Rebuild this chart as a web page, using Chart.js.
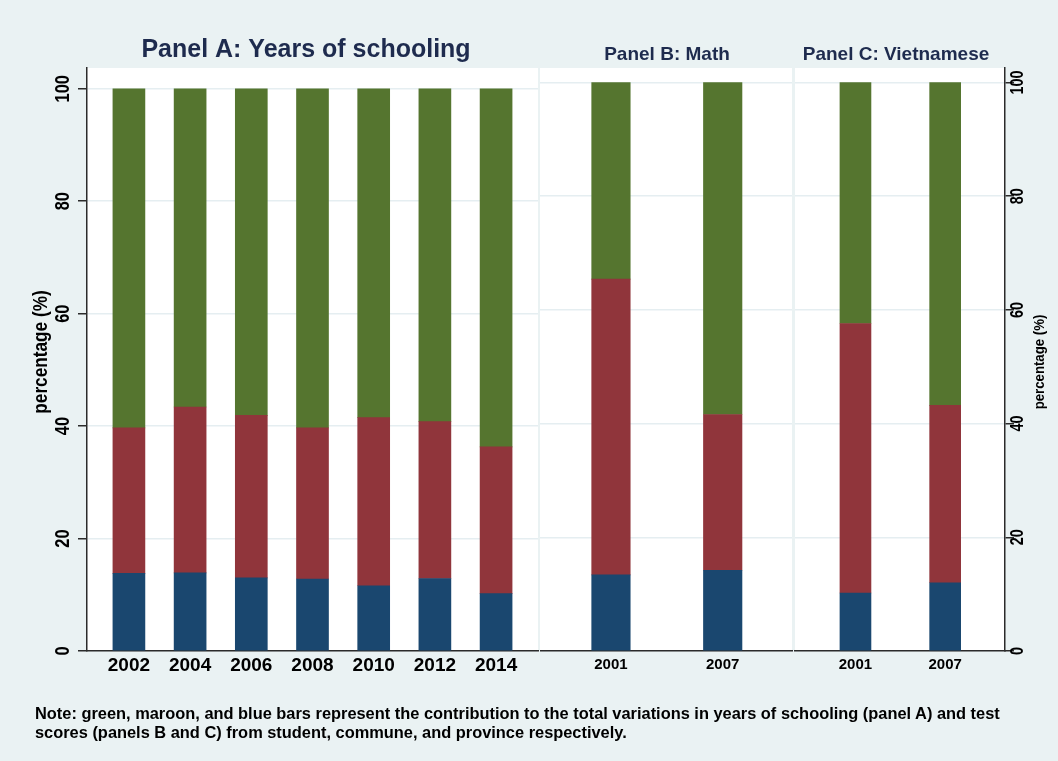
<!DOCTYPE html>
<html>
<head>
<meta charset="utf-8">
<script src="https://cdn.jsdelivr.net/npm/chart.js@4.4.1/dist/chart.umd.min.js"></script>
<style>
  html, body { margin: 0; padding: 0; }
  body {
    width: 1058px; height: 761px; overflow: hidden; position: relative;
    background: #EAF2F3;
    font-family: 'Liberation Sans', Arial, sans-serif;
  }
  canvas { position: absolute; top: 0; }
  #note {
    position: absolute; left: 35px; top: 704px;
    font-size: 16.4px; font-weight: bold; line-height: 19px; color: #000; white-space: nowrap;
  }
</style>
</head>
<body>
<canvas id="panelA" width="540" height="761" style="left:0px"></canvas>
<canvas id="panelB" width="253" height="761" style="left:540px"></canvas>
<canvas id="panelC" width="264" height="761" style="left:794px"></canvas>
<div id="note">Note: green, maroon, and blue bars represent the contribution to the total variations in years of schooling (panel A) and test<br>scores (panels B and C) from student, commune, and province respectively.</div>
<script>
// Panel A: years of schooling, share of variation by level (%)
const yearsA = ['2002', '2004', '2006', '2008', '2010', '2012', '2014'];
const provinceA = [13.8, 13.9, 13.0, 12.8, 11.6, 12.9, 10.2];
const communeA = [25.9, 29.5, 28.9, 26.9, 29.9, 27.9, 26.1];
const studentA = [60.3, 56.6, 58.1, 60.3, 58.5, 59.2, 63.7];

// Panel B: math test scores
const yearsB = ['2001', '2007'];
const provinceB = [13.4, 14.2];
const communeB = [52.0, 27.4];
const studentB = [34.6, 58.4];

// Panel C: Vietnamese test scores
const yearsC = ['2001', '2007'];
const provinceC = [10.2, 12.0];
const communeC = [47.4, 31.2];
const studentC = [42.4, 56.8];

const yTicks = [0, 20, 40, 60, 80, 100];

const NAVY = '#1A476F';
const MAROON = '#90353B';
const GREEN = '#55752F';
const AXIS = '#2B2B2B';
const GRID = '#E5EEF1';
const TITLE = '#1E2B4E';
const FONT = "'Liberation Sans', Arial, sans-serif";

Chart.defaults.font.family = FONT;

// white plot region, panel heading and rotated y labels
const panelDecor = {
  id: 'panelDecor',
  beforeDraw(chart) {
    const { ctx, chartArea: a } = chart;
    ctx.save();
    ctx.fillStyle = '#FFFFFF';
    ctx.fillRect(a.left, a.top, a.right - a.left, a.bottom - a.top);
    ctx.restore();
  },
  afterDraw(chart, args, o) {
    const { ctx } = chart;
    const y = chart.scales.y;
    ctx.save();
    ctx.fillStyle = TITLE;
    ctx.font = o.titleFont;
    ctx.textAlign = 'center';
    ctx.textBaseline = 'alphabetic';
    ctx.fillText(o.title, o.titleX, o.titleY);

    if (o.axisLabels) {
      ctx.fillStyle = '#000';
      ctx.textBaseline = 'middle';
      ctx.font = o.tickFont;
      yTicks.forEach((v) => {
        const py = y.getPixelForValue(v);
        ctx.save();
        ctx.translate(o.tickX, py);
        ctx.rotate(-Math.PI / 2);
        ctx.scale(o.tickSquash, 1);
        ctx.fillText(String(v), 0, 0);
        ctx.restore();
      });
      ctx.font = o.axisTitleFont;
      ctx.translate(o.axisTitleX, o.axisTitleY);
      ctx.rotate(-Math.PI / 2);
      ctx.scale(o.axisTitleSquash, 1);
      ctx.fillText('percentage (%)', 0, 0);
    }
    ctx.restore();
  },
};

function stackedData(values) {
  return values.map((v, i) => ({ x: i, y: v }));
}

function makePanel(id, p) {
  const datasets = [
    { label: 'province', data: stackedData(p.province), backgroundColor: NAVY },
    { label: 'commune', data: stackedData(p.commune), backgroundColor: MAROON },
    { label: 'student', data: stackedData(p.student), backgroundColor: GREEN },
  ].map((d) => ({ ...d, barThickness: p.barWidth, borderWidth: 0 }));

  return new Chart(document.getElementById(id), {
    type: 'bar',
    data: { datasets },
    plugins: [panelDecor],
    options: {
      responsive: false,
      devicePixelRatio: 1,
      animation: false,
      events: [],
      layout: { padding: p.padding },
      plugins: {
        legend: { display: false },
        tooltip: { enabled: false },
        panelDecor: p.decor,
      },
      scales: {
        x: {
          type: 'linear',
          offset: false,
          min: p.xMin,
          max: p.xMax,
          stacked: true,
          grid: { display: false, drawTicks: false },
          border: { display: true, color: AXIS, width: 1.5 },
          afterBuildTicks: (axis) => {
            axis.ticks = p.labels.map((_, i) => ({ value: i }));
          },
          afterFit: (axis) => {
            axis.height = 110;
          },
          ticks: {
            autoSkip: false,
            maxRotation: 0,
            padding: p.xPad,
            color: '#000',
            font: { size: p.xFont, weight: 'bold' },
            callback: (v) => p.labels[v],
          },
        },
        y: {
          position: p.yPos,
          min: 0,
          max: p.yMax,
          stacked: true,
          afterBuildTicks: (axis) => {
            axis.ticks = yTicks.map((v) => ({ value: v }));
          },
          afterFit: (axis) => {
            axis.width = p.yWidth;
          },
          ticks: { display: false },
          grid: {
            color: GRID,
            lineWidth: 1.5,
            drawTicks: p.yAxis,
            tickLength: 9,
            tickColor: AXIS,
            tickWidth: 1.5,
          },
          border: { display: p.yAxis, color: AXIS, width: 1.5 },
        },
      },
    },
  });
}

makePanel('panelA', {
  labels: yearsA,
  province: provinceA,
  commune: communeA,
  student: studentA,
  barWidth: 32,
  xMin: -0.685,
  xMax: 6.685,
  xFont: 19,
  xPad: 3,
  yMax: 103.7,
  yPos: 'left',
  yWidth: 87,
  yAxis: true,
  padding: { top: 68, right: 2, left: 0, bottom: 0 },
  decor: {
    title: 'Panel A: Years of schooling',
    titleFont: `bold 25px ${FONT}`,
    titleX: 306,
    titleY: 57,
    axisLabels: true,
    tickFont: `bold 21px ${FONT}`,
    tickSquash: 0.78,
    tickX: 63,
    axisTitleFont: `bold 20px ${FONT}`,
    axisTitleSquash: 0.86,
    axisTitleX: 41,
    axisTitleY: 352,
  },
});

makePanel('panelB', {
  labels: yearsB,
  province: provinceB,
  commune: communeB,
  student: studentB,
  barWidth: 38.5,
  xMin: -0.635,
  xMax: 1.62,
  xFont: 15,
  xPad: 5,
  yMax: 102.55,
  yPos: 'left',
  yWidth: 0,
  yAxis: false,
  padding: { top: 68, right: 1, left: 0, bottom: 0 },
  decor: {
    title: 'Panel B: Math',
    titleFont: `bold 19px ${FONT}`,
    titleX: 127,
    titleY: 60,
    axisLabels: false,
  },
});

makePanel('panelC', {
  labels: yearsC,
  province: provinceC,
  commune: communeC,
  student: studentC,
  barWidth: 31,
  xMin: -0.674,
  xMax: 1.667,
  xFont: 15,
  xPad: 5,
  yMax: 102.55,
  yPos: 'right',
  yWidth: 53,
  yAxis: true,
  padding: { top: 68, right: 0, left: 1, bottom: 0 },
  decor: {
    title: 'Panel C: Vietnamese',
    titleFont: `bold 19px ${FONT}`,
    titleX: 102,
    titleY: 60,
    axisLabels: true,
    tickFont: `bold 18px ${FONT}`,
    tickSquash: 0.8,
    tickX: 224,
    axisTitleFont: `bold 15px ${FONT}`,
    axisTitleSquash: 0.88,
    axisTitleX: 246,
    axisTitleY: 362,
  },
});
</script>
</body>
</html>
